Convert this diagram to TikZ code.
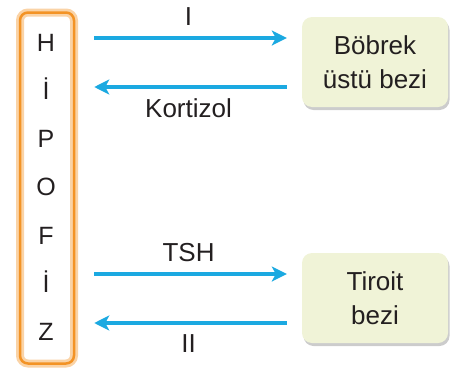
\documentclass[tikz,border=0pt]{standalone}
\usepackage{fontspec}
\setmainfont{Liberation Sans}
\usetikzlibrary{arrows.meta,shadows}
\definecolor{hipoorange}{HTML}{F39325}
\definecolor{hipoglow}{HTML}{FAD3A6}
\definecolor{arrowblue}{HTML}{1BA9E1}
\definecolor{glandfill}{HTML}{F0F3D7}
\definecolor{textgray}{HTML}{231F20}
\begin{document}
\begin{tikzpicture}[x=1pt,y=-1pt,
    every node/.style={text=textgray,font=\fontsize{26}{34}\selectfont},
    hipobox/.style={draw=hipoorange,line width=2.5pt,rounded corners=8pt,minimum width=54pt,minimum height=351pt,
        preaction={draw=hipoglow,line width=8pt}},
    letter/.style={inner sep=0pt,anchor=base,font=\fontsize{25}{30}\selectfont},
    glandbox/.style={fill=glandfill,rounded corners=10pt,minimum width=146pt,minimum height=90pt,align=center,
        drop shadow={opacity=0.4,shadow xshift=1.5pt,shadow yshift=-3pt}},
    hormone/.style={draw=arrowblue,line width=3.4pt,-{Stealth[length=15pt,width=15pt,inset=4pt]}}]
    \useasboundingbox (0,0) rectangle (452,372);
    \node[hipobox] (hipo) at (47,188) {};
    \foreach \l [count=\i] in {H,İ,P,O,F,İ,Z}
        \node[letter] (l\i) at (46,{51+(\i-1)*48.3}) {\l};
    \node[glandbox] (bobrek) at (375,62) {Böbrek\\üstü bezi};
    \node[glandbox] (tiroit) at (375,298) {Tiroit\\bezi};
    \draw[hormone,shorten <=19pt,shorten >=15pt] ([yshift=24pt]bobrek.west -| hipo.east) -- node[above=7pt] {I} ([yshift=24pt]bobrek.west);
    \draw[hormone,shorten <=15pt,shorten >=19pt] ([yshift=-25pt]bobrek.west) -- node[below=7pt] {Kortizol} ([yshift=-25pt]bobrek.west -| hipo.east);
    \draw[hormone,shorten <=19pt,shorten >=15pt] ([yshift=24pt]tiroit.west -| hipo.east) -- node[above=7pt] {TSH} ([yshift=24pt]tiroit.west);
    \draw[hormone,shorten <=15pt,shorten >=19pt] ([yshift=-25pt]tiroit.west) -- node[below=7pt] {II} ([yshift=-25pt]tiroit.west -| hipo.east);
\end{tikzpicture}
\end{document}
